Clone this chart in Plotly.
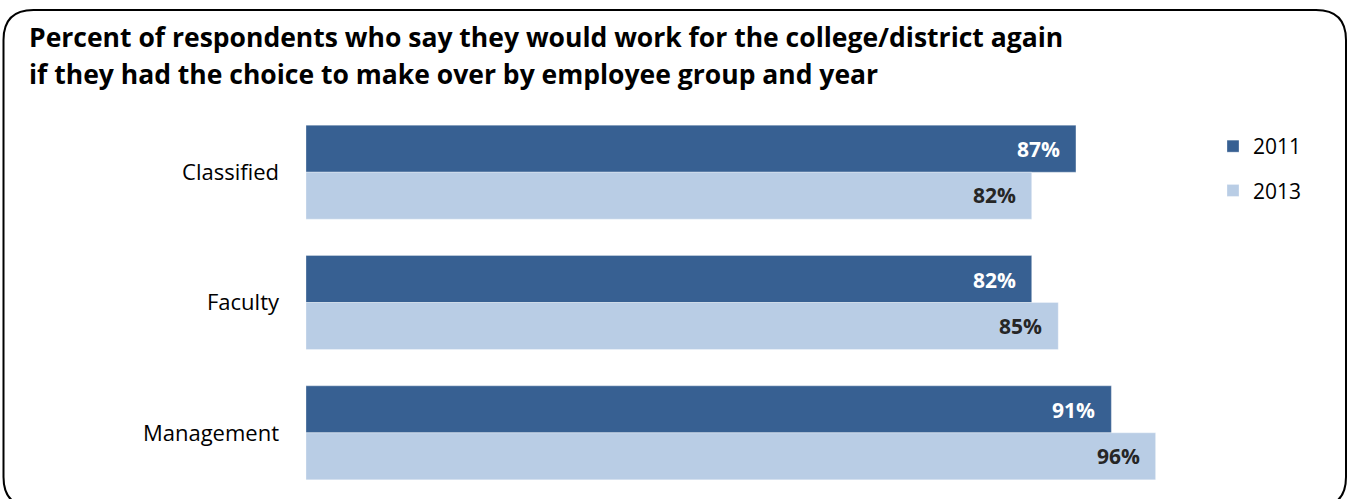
import plotly.graph_objects as go

# survey results, percent who would work for the college/district again
groups = ["Classified", "Faculty", "Management"]
years = ["2011", "2013"]
pct_2011 = [87, 82, 91]
pct_2013 = [82, 85, 96]

title_lines = ["Percent of respondents who say they would work for the college/district again",
               "if they had the choice to make over by employee group and year"]

W, H = 1349, 499
M_L, M_R, M_T, M_B = 306, 158, 107, 1
PW, PH = W - M_L - M_R, H - M_T - M_B

DARK = "#376092"
LIGHT = "#B9CDE5"
FONT = "Open Sans"


def px_x(x):
    """pixel -> paper x"""
    return (x - M_L) / PW


def px_y(y):
    """pixel -> paper y"""
    return 1 - (y - M_T) / PH


fig = go.Figure()
fig.add_trace(go.Bar(y=groups, x=pct_2011, name=years[0], orientation="h",
                     marker=dict(color=DARK, line=dict(color="rgba(255,255,255,0.3)", width=1)),
                     legendgroup="a", hoverinfo="skip"))
fig.add_trace(go.Bar(y=groups, x=pct_2013, name=years[1], orientation="h",
                     marker=dict(color=LIGHT, line=dict(color="rgba(255,255,255,0.3)", width=1)),
                     legendgroup="b", hoverinfo="skip"))

annotations = []
# value labels inside the end of each bar
for g, v in zip(groups, pct_2011):
    annotations.append(dict(x=v, y=g, text="<b>%d%%</b>" % v, showarrow=False, xanchor="right",
                            xshift=-14, yshift=23, font=dict(family=FONT, size=21, color="white")))
for g, v in zip(groups, pct_2013):
    annotations.append(dict(x=v, y=g, text="<b>%d%%</b>" % v, showarrow=False, xanchor="right",
                            xshift=-14, yshift=-23, font=dict(family=FONT, size=21, color="#262626")))

# two line title
for i, line in enumerate(title_lines):
    annotations.append(dict(x=px_x(27), y=px_y(37 + 37 * i), xref="paper", yref="paper",
                            text="<b>%s</b>" % line, showarrow=False, xanchor="left", yanchor="middle",
                            font=dict(family=FONT, size=26.5, color="black")))

# rounded frame around the chart
x0, x1, y0, y1, r = 3.5, 1346, 10, 507, 30
path = ("M {a},{b} L {c},{b} Q {d},{b} {d},{e} L {d},{f} Q {d},{g} {c},{g} "
        "L {a},{g} Q {h},{g} {h},{f} L {h},{e} Q {h},{b} {a},{b} Z").format(
    a=px_x(x0 + r), b=px_y(y0), c=px_x(x1 - r), d=px_x(x1), e=px_y(y0 + r),
    f=px_y(y1 - r), g=px_y(y1), h=px_x(x0))

fig.update_layout(
    width=W, height=H,
    margin=dict(l=M_L, r=M_R, t=M_T, b=M_B),
    barmode="group", bargap=0.279, bargroupgap=0,
    paper_bgcolor="white", plot_bgcolor="white",
    font=dict(family=FONT, size=21, color="black"),
    xaxis=dict(range=[0, 100], visible=False),
    yaxis=dict(autorange="reversed", showline=False, showgrid=False, ticks="",
               ticklabelstandoff=26, tickfont=dict(family=FONT, size=22, color="black")),
    legend=dict(x=px_x(1213), y=px_y(126), xanchor="left", yanchor="top",
                traceorder="grouped", tracegroupgap=14,
                font=dict(family=FONT, size=21, color="black")),
    annotations=annotations,
    shapes=[dict(type="path", path=path, xref="paper", yref="paper",
                 line=dict(color="black", width=2))],
)

fig.write_html("out.html", config={"displayModeBar": False},
               post_script="document.body.style.margin='0';")
